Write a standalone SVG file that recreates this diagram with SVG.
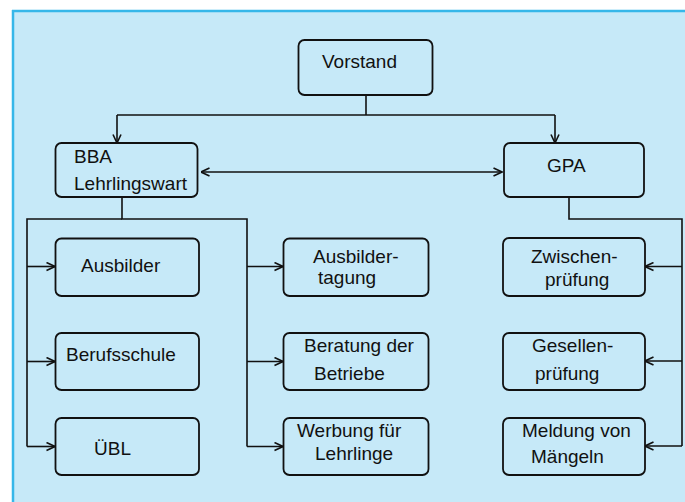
<svg xmlns="http://www.w3.org/2000/svg" width="685" height="502" viewBox="0 0 685 502">
<defs>
<style>
.box{fill:none;stroke:#111;stroke-width:1.8}
.ln{fill:none;stroke:#111;stroke-width:1.6}
text{font-family:"Liberation Sans",Arial,sans-serif;font-size:19px;fill:#111}
</style>
<marker id="ah" viewBox="0 0 10 10" refX="9.5" refY="5" markerWidth="10" markerHeight="10" markerUnits="userSpaceOnUse" orient="auto-start-reverse">
<path d="M1,1 L9.5,5 L1,9" fill="none" stroke="#111" stroke-width="1.6"/>
</marker>
</defs>
<rect x="0" y="0" width="685" height="502" fill="#ffffff"/>
<rect x="12" y="10" width="673" height="492" fill="#C6E9F8"/>
<line x1="13" y1="10" x2="13" y2="502" stroke="#36B7E9" stroke-width="2.5"/>
<line x1="12" y1="11" x2="685" y2="11" stroke="#36B7E9" stroke-width="2.5"/>
<g id="connectors">
<path class="ln" d="M366,95 V115"/>
<path class="ln" d="M117,115 H555"/>
<path class="ln" d="M117,115 V143" marker-end="url(#ah)"/>
<path class="ln" d="M555,115 V143" marker-end="url(#ah)"/>
<path class="ln" d="M201,172 H502" marker-start="url(#ah)" marker-end="url(#ah)"/>
<path class="ln" d="M122,197 V219 H247 V446.5"/>
<path class="ln" d="M122,219 H27 V446.5"/>
<path class="ln" d="M27,266.5 H55" marker-end="url(#ah)"/>
<path class="ln" d="M27,361.5 H55" marker-end="url(#ah)"/>
<path class="ln" d="M27,446.5 H55" marker-end="url(#ah)"/>
<path class="ln" d="M247,266.5 H283" marker-end="url(#ah)"/>
<path class="ln" d="M247,361.5 H283" marker-end="url(#ah)"/>
<path class="ln" d="M247,446.5 H283" marker-end="url(#ah)"/>
<path class="ln" d="M569,197 V219 H682 V446"/>
<path class="ln" d="M682,266.5 H645" marker-end="url(#ah)"/>
<path class="ln" d="M682,361 H645" marker-end="url(#ah)"/>
<path class="ln" d="M682,446 H645" marker-end="url(#ah)"/>
</g>
<g id="vorstand">
<rect class="box" x="298.5" y="40" width="134" height="55" rx="6"/>
<text x="322" y="68">Vorstand</text>
</g>
<g id="bba">
<rect class="box" x="55.5" y="143" width="142" height="54" rx="6"/>
<text x="74" y="163">BBA</text>
<text x="74" y="190">Lehrlingswart</text>
</g>
<g id="gpa">
<rect class="box" x="504" y="143" width="140" height="54" rx="6"/>
<text x="547" y="172">GPA</text>
</g>
<g id="ausbilder">
<rect class="box" x="55.5" y="238.5" width="143.5" height="57.5" rx="6"/>
<text x="81" y="272">Ausbilder</text>
</g>
<g id="berufsschule">
<rect class="box" x="55.5" y="333" width="143.5" height="57" rx="6"/>
<text x="66" y="361">Berufsschule</text>
</g>
<g id="uebl">
<rect class="box" x="55.5" y="418" width="143.5" height="57" rx="6"/>
<text x="94" y="455">ÜBL</text>
</g>
<g id="ausbildertagung">
<rect class="box" x="283.5" y="238.5" width="145" height="57.5" rx="6"/>
<text x="313" y="263">Ausbilder-</text>
<text x="318" y="284">tagung</text>
</g>
<g id="beratung">
<rect class="box" x="283.5" y="333" width="145" height="57" rx="6"/>
<text x="304" y="352">Beratung der</text>
<text x="314" y="380">Betriebe</text>
</g>
<g id="werbung">
<rect class="box" x="283.5" y="418" width="145" height="57" rx="6"/>
<text x="297" y="437">Werbung für</text>
<text x="315" y="460">Lehrlinge</text>
</g>
<g id="zwischenpruefung">
<rect class="box" x="503" y="238" width="142" height="58" rx="6"/>
<text x="531" y="263">Zwischen-</text>
<text x="545" y="286">prüfung</text>
</g>
<g id="gesellenpruefung">
<rect class="box" x="503" y="333" width="142" height="57" rx="6"/>
<text x="532" y="352">Gesellen-</text>
<text x="535" y="380">prüfung</text>
</g>
<g id="meldung">
<rect class="box" x="503" y="418" width="142" height="57" rx="6"/>
<text x="522" y="437">Meldung von</text>
<text x="531" y="463">Mängeln</text>
</g>
</svg>
